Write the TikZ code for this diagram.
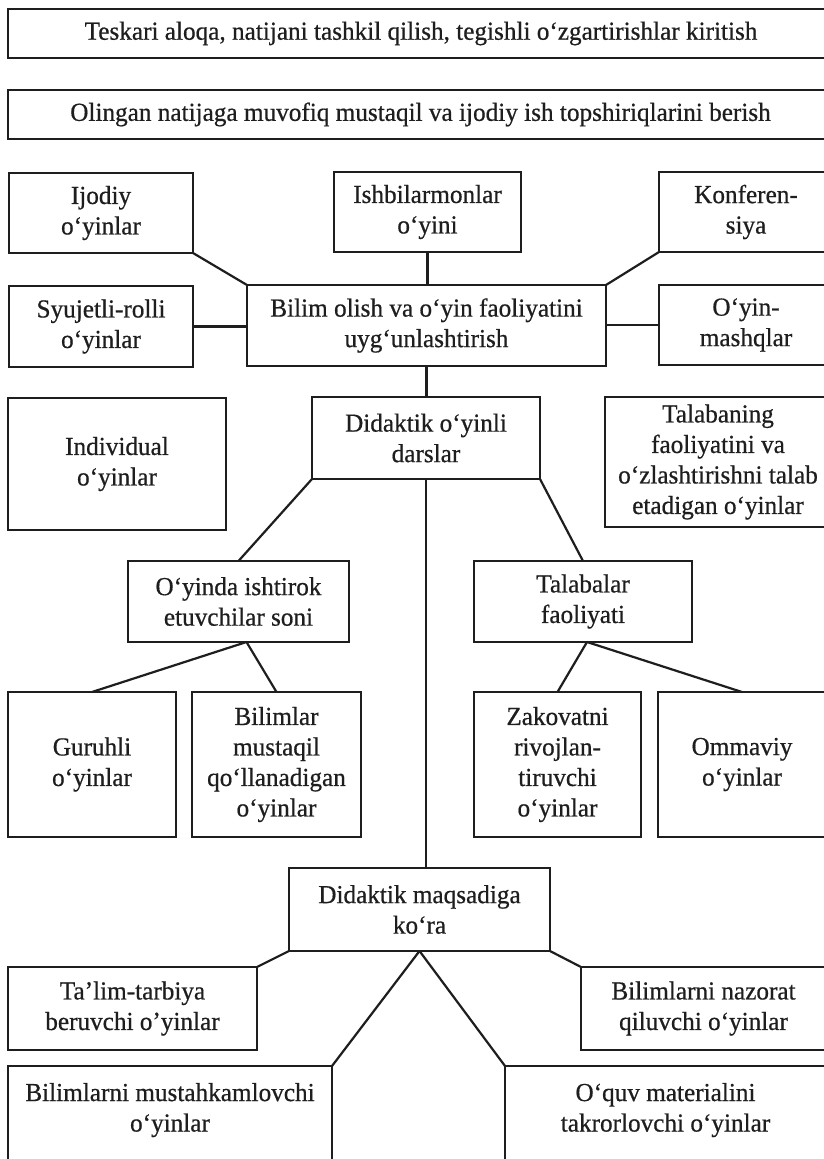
\documentclass[tikz,border=0pt]{standalone}
\usepackage{fontspec}
\setmainfont{Liberation Serif}[FakeStretch=0.97,FakeBold=0.6]
\definecolor{ink}{RGB}{30,30,30}
\tikzset{
  box/.style={draw=ink, line width=2.2pt, inner sep=0pt, outer sep=0pt, align=center, text=ink, font=\fontsize{26}{30.5}\selectfont},
  conn/.style={draw=ink, line width=2.2pt}
}
\newcommand{\mybox}[6]{\node[box, minimum width={(#4)-(#2)}, minimum height={(#5)-(#3)}] (#1) at ({((#2)+(#4))/2},{((#3)+(#5))/2}) {#6};}
\begin{document}
\begin{tikzpicture}[x=1pt,y=-1pt]
\fill[white] (0,0) rectangle (823,1159);
\useasboundingbox (0,0) rectangle (823,1159);
\mybox{b1}{8}{9}{834}{58}{Teskari aloqa, natijani tashkil qilish, tegishli o‘zgartirishlar kiritish}
\mybox{b2}{8}{90}{833}{139}{Olingan natijaga muvofiq mustaqil va ijodiy ish topshiriqlarini berish}
\mybox{ijod}{9}{173}{193}{253}{Ijodiy\\o‘yinlar}
\mybox{ishb}{334}{172}{521}{252}{Ishbilarmonlar\\o‘yini}
\mybox{konf}{659}{172}{833}{252}{Konferen-\\siya}
\mybox{syuj}{9}{286}{193}{367}{Syujetli-rolli\\o‘yinlar}
\mybox{bilim}{247}{285}{606}{366}{Bilim olish va o‘yin faoliyatini\\uyg‘unlashtirish}
\mybox{mashq}{659}{285}{833}{365}{O‘yin-\\mashqlar}
\mybox{indiv}{8}{398}{226}{530}{Individual\\o‘yinlar}
\mybox{didak}{312}{397}{540}{479}{Didaktik o‘yinli\\darslar}
\mybox{talab}{605}{397}{831}{527}{Talabaning\\faoliyatini va\\o‘zlashtirishni talab\\etadigan o‘yinlar}
\mybox{oyinda}{128}{561}{349}{642}{O‘yinda ishtirok\\etuvchilar soni}
\mybox{talfa}{474}{561}{692}{642}{Talabalar\\faoliyati}
\mybox{guruh}{8}{692}{176}{837}{Guruhli\\o‘yinlar}
\mybox{bilmus}{192}{692}{361}{837}{Bilimlar\\mustaqil\\qo‘llanadigan\\o‘yinlar}
\mybox{zakov}{474}{692}{641}{837}{Zakovatni\\rivojlan-\\tiruvchi\\o‘yinlar}
\mybox{ommav}{658}{692}{826}{837}{Ommaviy\\o‘yinlar}
\mybox{maqsad}{289}{868}{550}{951}{Didaktik maqsadiga\\ko‘ra}
\mybox{talim}{8}{967}{257}{1050}{Ta’lim-tarbiya\\beruvchi o’yinlar}
\mybox{nazor}{581}{967}{826}{1050}{Bilimlarni nazorat\\qiluvchi o‘yinlar}
\mybox{must}{8}{1066}{332}{1176}{\parbox[c][110pt][t]{320pt}{\centering\vspace*{17pt}Bilimlarni mustahkamlovchi\\o‘yinlar}}
\mybox{oquv}{505}{1066}{826}{1176}{\parbox[c][110pt][t]{318pt}{\centering\vspace*{17pt}O‘quv materialini\\takrorlovchi o‘yinlar}}
% connectors
\draw[conn] (ijod.south east) -- (bilim.north west);
\draw[conn] (ishb.south) -- (ishb.south |- bilim.north);
\draw[conn] (konf.south west) -- (bilim.north east);
\draw[conn] (syuj.east) -- (syuj.east -| bilim.west);
\draw[conn] (mashq.west) -- (mashq.west -| bilim.east);
\draw[conn] (bilim.south) -- (bilim.south |- didak.north);
\draw[conn] (didak.south west) -- (oyinda.north);
\draw[conn] (didak.south east) -- (talfa.north);
\draw[conn] (didak.south) -- (didak.south |- maqsad.north);
\coordinate (oyb) at ([xshift=8pt]oyinda.south);
\draw[conn] (oyb) -- (guruh.north);
\draw[conn] (oyb) -- (bilmus.north);
\coordinate (tfb) at ([xshift=4pt]talfa.south);
\draw[conn] (tfb) -- (zakov.north);
\draw[conn] (tfb) -- (ommav.north);
\draw[conn] (maqsad.south west) -- (talim.north east);
\draw[conn] (maqsad.south east) -- (nazor.north west);
\draw[conn] (maqsad.south) -- (must.north east);
\draw[conn] (maqsad.south) -- (oquv.north west);
\end{tikzpicture}
\end{document}
